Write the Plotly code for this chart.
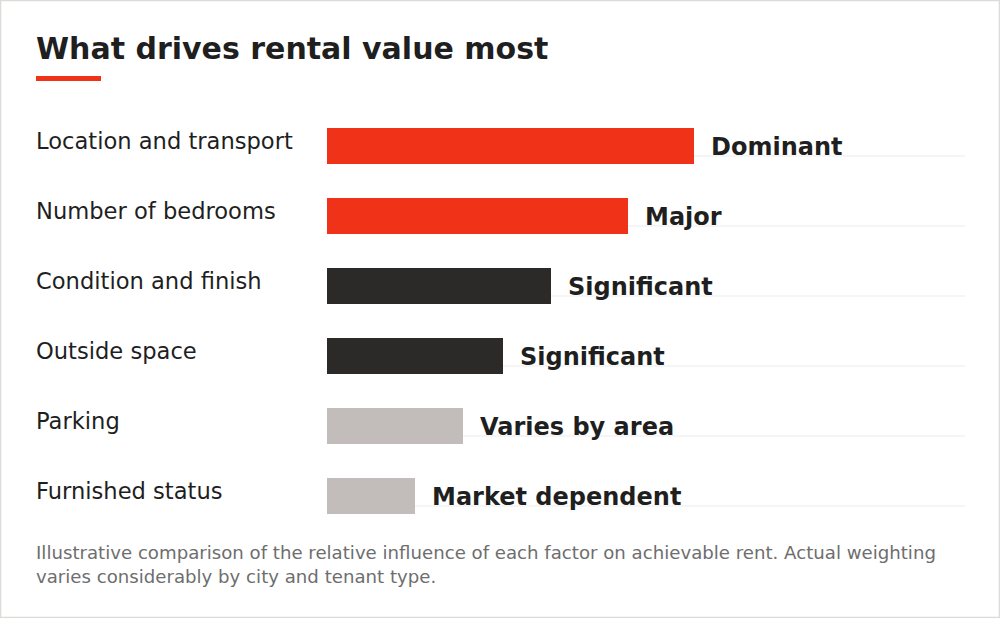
import plotly.graph_objects as go

factors = ["Location and transport", "Number of bedrooms", "Condition and finish",
           "Outside space", "Parking", "Furnished status"]
influence = [100, 82, 61, 48, 37, 24]
ratings = ["Dominant", "Major", "Significant", "Significant", "Varies by area", "Market dependent"]
tiers = ["high", "high", "mid", "mid", "low", "low"]

tier_colors = {"high": "#F03219", "mid": "#2B2A28", "low": "#C2BDBA"}
title = "What drives rental value most"
note = ("Illustrative comparison of the relative influence of each factor on achievable rent. Actual weighting"
        "<br>varies considerably by city and tenant type.")

W, H = 1000, 618
L, R, T, B = 327, 35, 111, 87
pw, ph = W - L - R, H - T - B

def px_x(x):
    return (x - L) / pw

def px_y(y):
    return (H - B - y) / ph

fig = go.Figure()
fig.add_trace(go.Bar(
    x=influence, y=factors, orientation="h",
    marker=dict(color=[tier_colors[t] for t in tiers], line=dict(width=0)),
    width=0.52, hoverinfo="skip",
))

shapes = []
# thin rule under each row
for i in range(len(factors)):
    shapes.append(dict(type="line", xref="paper", yref="y", x0=0, x1=1,
                       y0=i + 0.143, y1=i + 0.143, layer="below",
                       line=dict(color="#EBEBEB", width=1)))
# red accent under title
shapes.append(dict(type="rect", xref="paper", yref="paper",
                   x0=px_x(36), x1=px_x(101), y0=px_y(81), y1=px_y(76),
                   fillcolor="#F03219", line=dict(width=0)))
# outer frame
shapes.append(dict(type="rect", xref="paper", yref="paper",
                   x0=px_x(0.5), x1=px_x(999.5), y0=px_y(617.5), y1=px_y(0.5),
                   fillcolor="rgba(0,0,0,0)", line=dict(color="#DDDBD8", width=1.5)))

annotations = []
for f, v, r in zip(factors, influence, ratings):
    annotations.append(dict(x=px_x(34), xref="paper", y=f, yref="y", text=f,
                            xanchor="left", yanchor="middle", yshift=5, showarrow=False,
                            font=dict(size=22.6, color="#1F1F1F")))
    annotations.append(dict(x=v, xref="x", y=f, yref="y", text="<b>" + r + "</b>",
                            xanchor="left", yanchor="middle", xshift=15, yshift=-1,
                            showarrow=False, font=dict(size=24, color="#1F1F1F")))
annotations.append(dict(x=px_x(34), xref="paper", y=px_y(540), yref="paper", text=note,
                        xanchor="left", yanchor="top", align="left", showarrow=False,
                        font=dict(size=18.15, color="#6E6E6E")))

fig.update_layout(
    width=W, height=H,
    margin=dict(l=L, r=R, t=T, b=B),
    paper_bgcolor="white", plot_bgcolor="white",
    font=dict(family="DejaVu Sans", color="#1F1F1F"),
    title=dict(text="<b>" + title + "</b>", x=36 / W, xanchor="left", xref="container",
               y=1 - 48 / H, yanchor="middle", font=dict(size=30, color="#1F1F1F")),
    xaxis=dict(range=[0, 174], visible=False, fixedrange=True),
    yaxis=dict(categoryorder="array", categoryarray=factors, autorange="reversed",
               visible=False, fixedrange=True),
    showlegend=False, bargap=0,
    shapes=shapes, annotations=annotations,
)

fig.write_html("out.html", config={"displayModeBar": False},
               post_script="document.body.style.margin='0';")
